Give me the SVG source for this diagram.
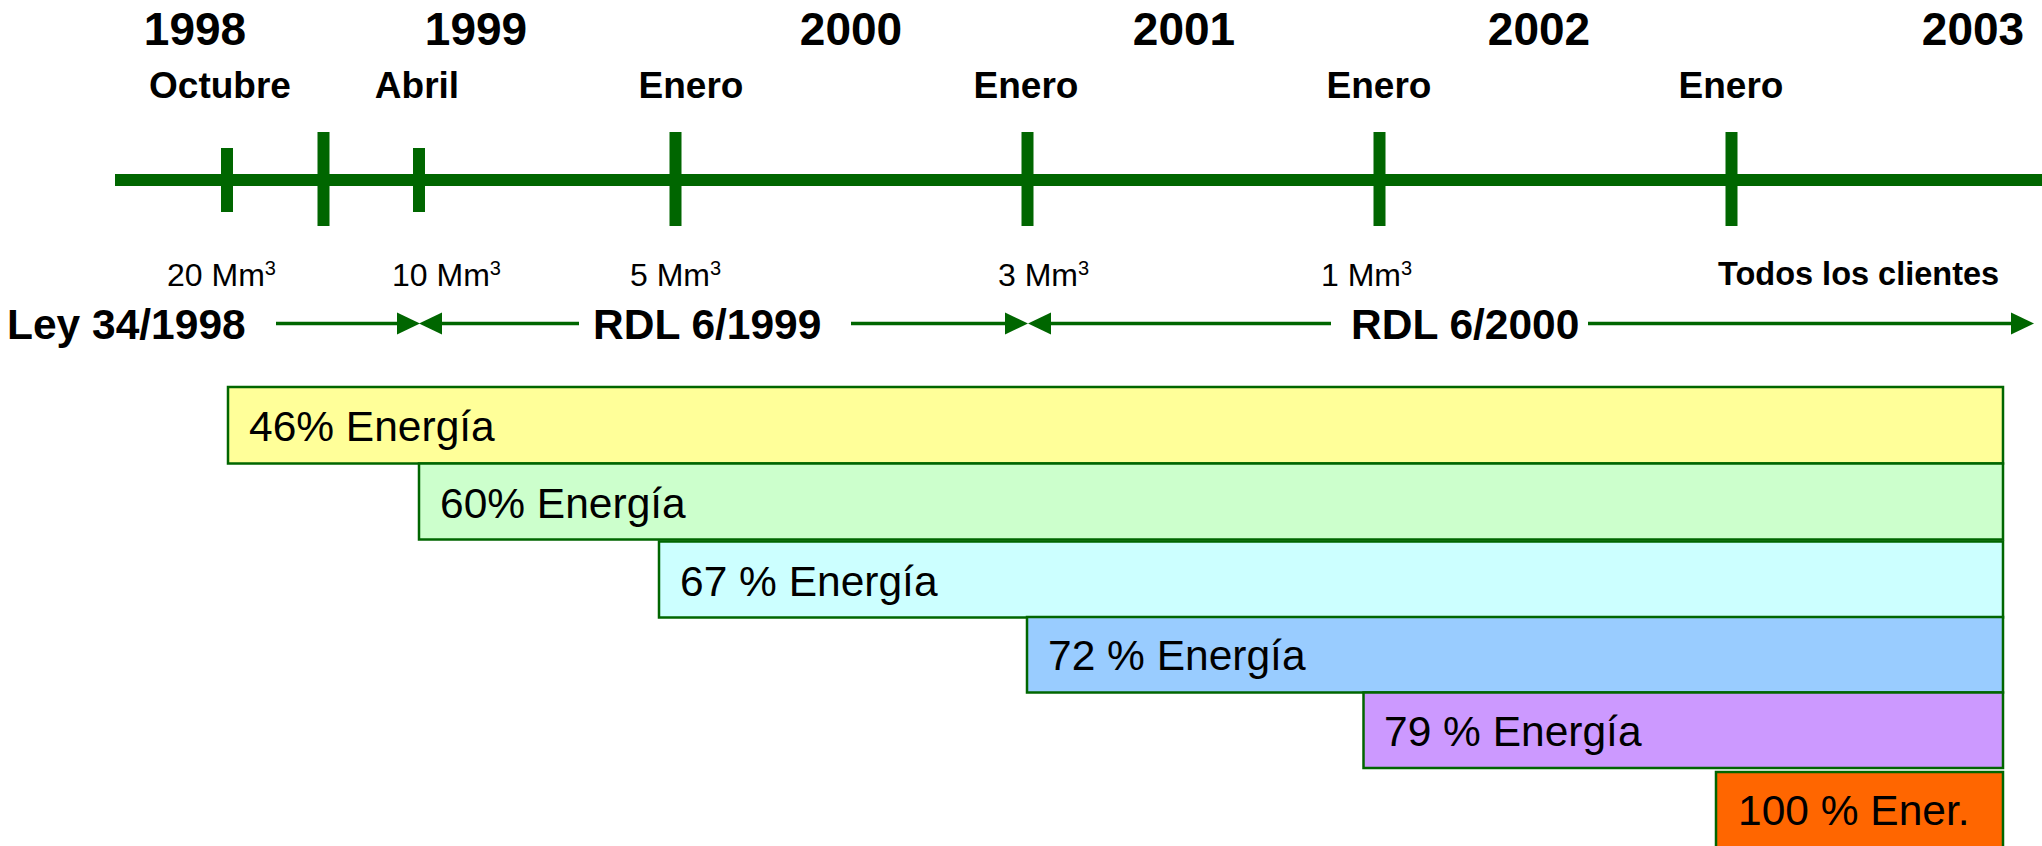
<svg xmlns="http://www.w3.org/2000/svg" width="2042" height="846" viewBox="0 0 2042 846">
<style>
.yr{font-family:"Liberation Sans",Arial,sans-serif;font-weight:bold;font-size:46px;fill:#000;text-anchor:middle}
.mo{font-family:"Liberation Sans",Arial,sans-serif;font-weight:bold;font-size:37px;fill:#000;text-anchor:middle}
.mm{font-family:"Liberation Sans",Arial,sans-serif;font-size:32px;fill:#000}
.sup{font-size:20px}
.todos{font-family:"Liberation Sans",Arial,sans-serif;font-weight:bold;font-size:32.5px;fill:#000}
.law{font-family:"Liberation Sans",Arial,sans-serif;font-weight:bold;font-size:42.5px;fill:#000}
.bt{font-family:"Liberation Sans",Arial,sans-serif;font-size:42.5px;fill:#000}
.tick{stroke:#006600;stroke-width:12}
.arr{stroke:#006600;stroke-width:3.5;fill:none;marker-end:url(#ah)}
.bar{stroke:#006600;stroke-width:2.5}
</style>
<defs>
<marker id="ah" markerUnits="userSpaceOnUse" markerWidth="24" markerHeight="24" refX="0" refY="11" orient="auto" viewBox="0 0 24 22">
<path d="M0,0 L23,11 L0,22 Z" fill="#006600"/>
</marker>
</defs>
<rect width="2042" height="846" fill="#fff"/>
<g id="years">
<text class="yr" x="195" y="45">1998</text>
<text class="yr" x="476" y="45">1999</text>
<text class="yr" x="851" y="45">2000</text>
<text class="yr" x="1184" y="45">2001</text>
<text class="yr" x="1539" y="45">2002</text>
<text class="yr" x="1973" y="45">2003</text>
</g>
<g id="months">
<text class="mo" x="220" y="98">Octubre</text>
<text class="mo" x="417" y="98">Abril</text>
<text class="mo" x="691" y="98">Enero</text>
<text class="mo" x="1026" y="98">Enero</text>
<text class="mo" x="1379" y="98">Enero</text>
<text class="mo" x="1731" y="98">Enero</text>
</g>
<g id="timeline">
<line x1="115" y1="180" x2="2042" y2="180" stroke="#006600" stroke-width="12"/>
<line class="tick" x1="227" y1="148" x2="227" y2="212"/>
<line class="tick" x1="323.5" y1="132" x2="323.5" y2="226"/>
<line class="tick" x1="419" y1="148" x2="419" y2="212"/>
<line class="tick" x1="675.5" y1="132" x2="675.5" y2="226"/>
<line class="tick" x1="1027.5" y1="132" x2="1027.5" y2="226"/>
<line class="tick" x1="1379.5" y1="132" x2="1379.5" y2="226"/>
<line class="tick" x1="1731.5" y1="132" x2="1731.5" y2="226"/>
</g>
<g id="thresholds">
<text class="mm" x="167" y="286">20 Mm<tspan class="sup" dy="-11">3</tspan></text>
<text class="mm" x="392" y="286">10 Mm<tspan class="sup" dy="-11">3</tspan></text>
<text class="mm" x="630" y="286">5 Mm<tspan class="sup" dy="-11">3</tspan></text>
<text class="mm" x="998" y="286">3 Mm<tspan class="sup" dy="-11">3</tspan></text>
<text class="mm" x="1321" y="286">1 Mm<tspan class="sup" dy="-11">3</tspan></text>
<text class="todos" x="1718" y="285">Todos los clientes</text>
</g>
<g id="laws">
<text class="law" x="7" y="339">Ley 34/1998</text>
<text class="law" x="593" y="339">RDL 6/1999</text>
<text class="law" x="1351" y="339">RDL 6/2000</text>
</g>
<g id="connectors">
<line class="arr" x1="276" y1="323.5" x2="397" y2="323.5"/>
<line class="arr" x1="579" y1="323.5" x2="442" y2="323.5"/>
<line class="arr" x1="851" y1="323.5" x2="1005" y2="323.5"/>
<line class="arr" x1="1331" y1="323.5" x2="1051" y2="323.5"/>
<line class="arr" x1="1588" y1="323.5" x2="2011" y2="323.5"/>
</g>
<g id="bar46">
<rect class="bar" x="228" y="387" width="1775" height="76.5" fill="#FFFF99"/>
<text class="bt" x="249" y="441">46% Energía</text>
</g>
<g id="bar60">
<rect class="bar" x="419" y="463.5" width="1584" height="76" fill="#CCFFCC"/>
<text class="bt" x="440" y="518">60% Energía</text>
</g>
<g id="bar67">
<rect class="bar" x="659" y="541.5" width="1344" height="76" fill="#CCFFFF"/>
<text class="bt" x="680" y="596">67 % Energía</text>
</g>
<g id="bar72">
<rect class="bar" x="1027" y="617" width="976" height="75.5" fill="#99CCFF"/>
<text class="bt" x="1048" y="670">72 % Energía</text>
</g>
<g id="bar79">
<rect class="bar" x="1363.5" y="692.5" width="639.5" height="75.5" fill="#CC99FF"/>
<text class="bt" x="1384" y="746">79 % Energía</text>
</g>
<g id="bar100">
<rect class="bar" x="1716" y="772" width="287" height="80" fill="#FF6600"/>
<text class="bt" x="1738" y="825">100 % Ener.</text>
</g>
</svg>
